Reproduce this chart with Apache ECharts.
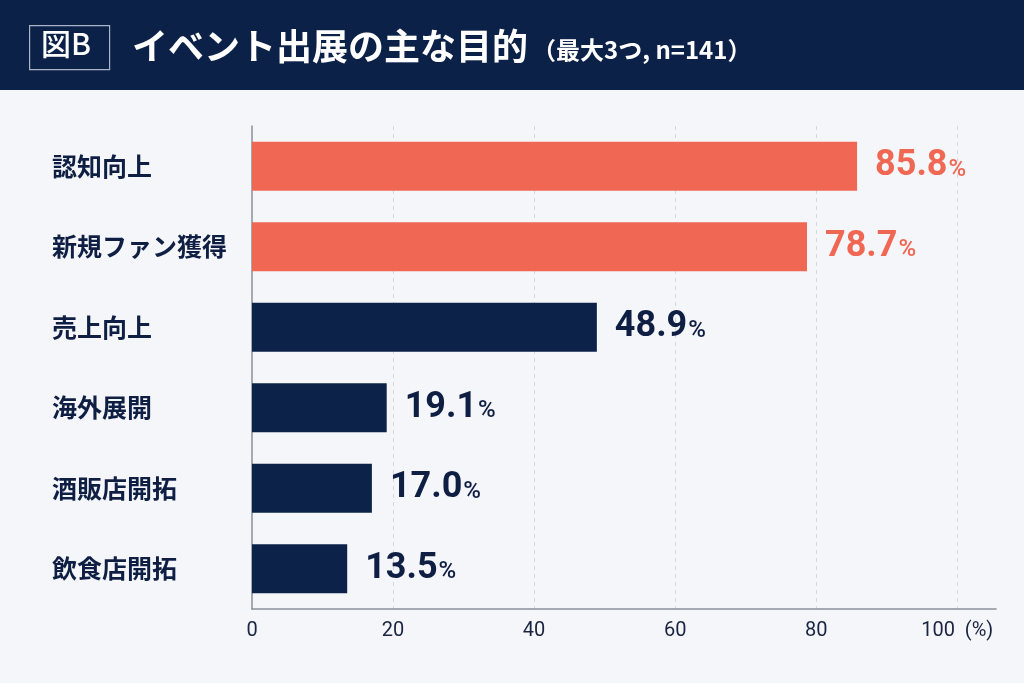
<!DOCTYPE html>
<html>
<head>
<meta charset="utf-8">
<script src="https://cdn.jsdelivr.net/npm/echarts@6/dist/echarts.min.js"></script>
<style>
  html, body { margin: 0; padding: 0; background: #f4f6f9; }
  #main { width: 1024px; height: 683px; }
</style>
</head>
<body>
<div id="main"></div>
<script>
var chartDom = document.getElementById('main');
var myChart = echarts.init(chartDom);
var option;

// 項目
const categories = ['認知向上', '新規ファン獲得', '売上向上', '海外展開', '酒販店開拓', '飲食店開拓'];
// 割合 (%)
const values = [85.8, 78.7, 48.9, 19.1, 17.0, 13.5];
// 強調する項目（上位2つ）
const highlight = [true, true, false, false, false, false];
// 目盛り
const xTicks = [0, 20, 40, 60, 80, 100];

const FONT = '"Noto Sans CJK JP", "Noto Sans", sans-serif';
const NUM_FONT = 'Roboto, "Noto Sans", sans-serif';
const NAVY = '#0c2248';
const CORAL = '#f06753';
const TEXT = '#0f1f44';

const barData = values.map((v, i) => ({
  value: v,
  itemStyle: { color: highlight[i] ? CORAL : NAVY },
  label: {
    rich: {
      v: { color: highlight[i] ? CORAL : TEXT },
      p: { color: highlight[i] ? CORAL : TEXT }
    }
  }
}));

option = {
  backgroundColor: '#f4f6f9',
  textStyle: { fontFamily: FONT },
  graphic: [
    {
      type: 'rect',
      left: 0, top: 0,
      shape: { width: 1024, height: 90 },
      style: { fill: '#0c2148' },
      z: -1
    },
    {
      type: 'rect',
      left: 29, top: 25,
      shape: { width: 80, height: 44 },
      style: { fill: 'transparent', stroke: '#aab4c8', lineWidth: 1.2 }
    },
    {
      type: 'text',
      left: 41, top: 29,
      style: { text: '図B', fill: '#ffffff', font: '500 30px ' + FONT }
    },
    {
      type: 'text',
      left: 132, top: 28,
      style: {
        text: '{a|イベント出展の主な目的}{b|（最大3つ, n=141）}',
        rich: {
          a: { fill: '#ffffff', fontSize: 36, fontWeight: 'bold', fontFamily: FONT },
          b: { fill: '#ffffff', fontSize: 24, fontWeight: 'bold', fontFamily: FONT, padding: [8, 0, 0, 4] }
        }
      }
    }
  ],
  grid: {
    left: 252,
    right: 28,
    top: 126,
    bottom: 74
  },
  xAxis: {
    type: 'value',
    min: 0,
    max: 105.5, // 軸線が100より右まで伸びている
    interval: 20,
    axisLine: { show: true, lineStyle: { color: '#8b909a', width: 1.5 } },
    axisTick: { show: false },
    axisLabel: {
      showMaxLabel: false,
      margin: 12,
      fontSize: 20,
      color: '#1a2440',
      fontFamily: NUM_FONT,
      formatter: function (v) {
        if (xTicks.indexOf(v) < 0) return '';
        return v === 100 ? '100  (%)' : String(v);
      }
    },
    splitLine: {
      show: true,
      showMinLine: false,
      showMaxLine: false,
      lineStyle: { color: '#d3d7df', type: [4, 4], width: 1 }
    }
  },
  yAxis: {
    type: 'category',
    data: categories,
    inverse: true,
    axisLine: { show: true, lineStyle: { color: '#8b909a', width: 1.5 } },
    axisTick: { show: false },
    axisLabel: {
      align: 'left',
      margin: 200,
      fontSize: 25,
      fontWeight: 'bold',
      color: TEXT,
      fontFamily: FONT
    }
  },
  series: [
    {
      type: 'bar',
      data: barData,
      barWidth: 49,
      label: {
        show: true,
        position: 'right',
        distance: 18,
        formatter: function (p) {
          return '{v|' + p.value.toFixed(1) + '}{p|%}';
        },
        rich: {
          v: { fontSize: 36, fontWeight: 'bold', fontFamily: NUM_FONT, padding: [0, 1, 0, 0] },
          p: { fontSize: 24, fontWeight: 500, fontFamily: NUM_FONT, padding: [7, 0, 0, 0] }
        }
      }
    }
  ]
};

option && myChart.setOption(option);
</script>
</body>
</html>
